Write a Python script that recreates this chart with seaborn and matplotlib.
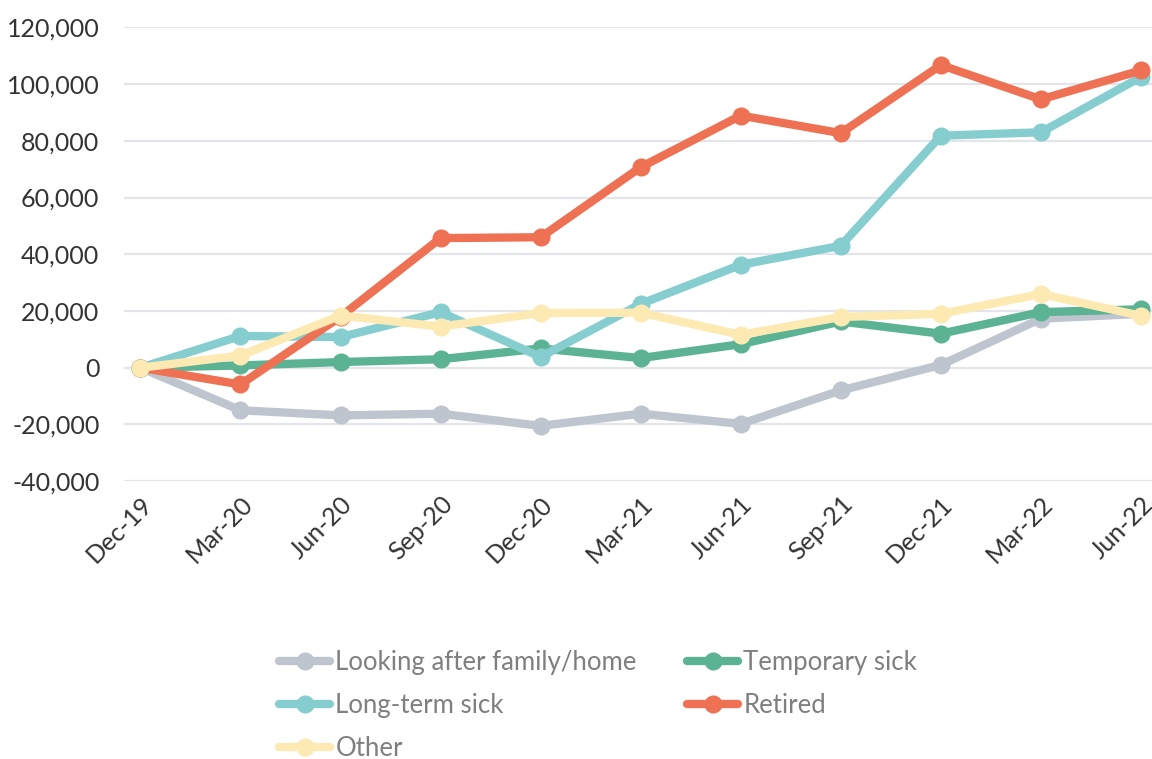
import matplotlib
matplotlib.use("Agg")
import matplotlib.pyplot as plt
import seaborn as sns
import pandas as pd
import numpy as np

periods = ["Dec-19", "Mar-20", "Jun-20", "Sep-20", "Dec-20", "Mar-21",
           "Jun-21", "Sep-21", "Dec-21", "Mar-22", "Jun-22"]

looking_after = [0, -15000, -16800, -16200, -20500, -16200, -19800, -8000, 1000, 17300, 19000]
temporary_sick = [0, 800, 2000, 3000, 6800, 3400, 8300, 16300, 12000, 19600, 20600]
long_term_sick = [0, 11200, 10800, 19600, 3800, 22500, 36300, 43000, 81800, 83000, 102500]
retired = [0, -5900, 18000, 45700, 46000, 70700, 88900, 82700, 106700, 94600, 104800]
other = [0, 4300, 18400, 14500, 19300, 19400, 11600, 17900, 19000, 26000, 18300]

series_names = ["Looking after family/home", "Temporary sick", "Long-term sick", "Retired", "Other"]
series_values = [looking_after, temporary_sick, long_term_sick, retired, other]
colors = ["#BFC5CF", "#5BB393", "#86CDCF", "#EE7154", "#FDE9B2"]

rows = []
for name, vals in zip(series_names, series_values):
    for i, (p, v) in enumerate(zip(periods, vals)):
        rows.append({"idx": i, "period": p, "value": v, "series": name})
df = pd.DataFrame(rows)

sns.set_theme(style="white")
plt.rcParams["font.family"] = ["Lato", "DejaVu Sans"]

fig = plt.figure(figsize=(11.52, 7.59), dpi=100)
ax = fig.add_axes([0.108, 0.366, 0.892, 0.598])

sns.lineplot(data=df, x="idx", y="value", hue="series", hue_order=series_names,
             palette=colors, marker="o", markersize=13, markeredgewidth=0,
             linewidth=6, ax=ax, legend=True)

ax.set_ylim(-40000, 120000)
ax.set_xlim(-0.16, 10.11)
ax.set_yticks(np.arange(-40000, 120001, 20000))
ax.set_yticklabels([f"{int(v):,}" for v in np.arange(-40000, 120001, 20000)])
ax.set_xticks(range(len(periods)))
ax.set_xticklabels(periods, rotation=45, ha="right", rotation_mode="anchor")
ax.tick_params(axis="both", labelsize=18, colors="#333333", length=0)
ax.tick_params(axis="x", pad=8)
ax.tick_params(axis="y", pad=18)
ax.grid(axis="y", color="#E3E5EA", linewidth=1.6)
ax.set_axisbelow(True)
for s in ax.spines.values():
    s.set_visible(False)
ax.set_xlabel("")
ax.set_ylabel("")

handles, labels = ax.get_legend_handles_labels()
ax.get_legend().remove()
hmap = dict(zip(labels, handles))
order = ["Looking after family/home", "Long-term sick", "Other", "Temporary sick", "Retired"]
leg = fig.legend([hmap[o] for o in order], order, loc="upper left",
                 bbox_to_anchor=(0.231, 0.161), ncol=2, frameon=False,
                 fontsize=18.5, handlelength=2.0, handletextpad=0.2,
                 columnspacing=1.95, labelspacing=0.7, borderpad=0)
for t in leg.get_texts():
    t.set_color("#7F7F7F")

fig.savefig("out.png", dpi=100)
